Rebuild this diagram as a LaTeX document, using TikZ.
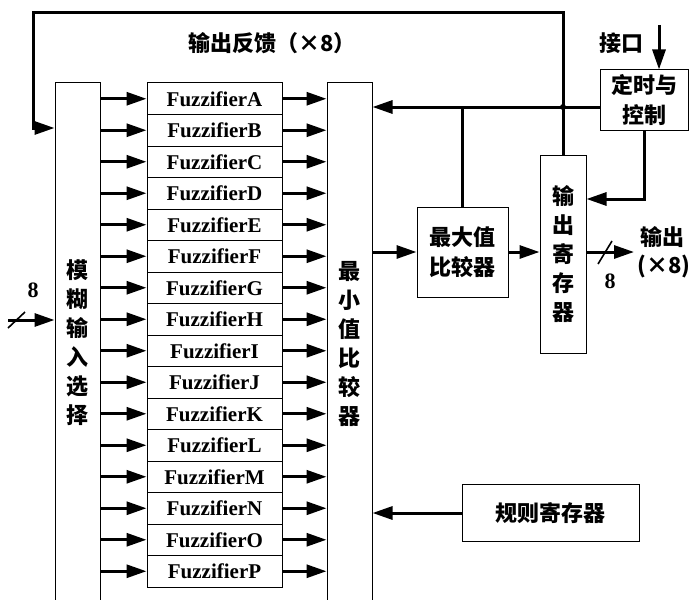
\documentclass[tikz,border=0pt]{standalone}
\usepackage{fontspec}
\setmainfont{Liberation Serif}
\newfontfamily\cjk{Noto Sans CJK SC}
\usetikzlibrary{positioning, calc, arrows.meta}

\begin{document}
\begin{tikzpicture}[
    x=0.5pt, y=-0.5pt,
    box/.style={draw, line width=0.5pt, inner sep=0pt, align=center, font=\cjk\bfseries\fontsize{11}{14.5}\selectfont},
    fuzz/.style={draw, line width=0.5pt, minimum width=67.5pt, minimum height=15.75pt, inner sep=0pt, font=\bfseries\fontsize{10.5}{12}\selectfont},
    bus/.style={line width=1.5pt, -{Triangle[length=10pt,width=6.5pt]}},
    wire/.style={line width=1.5pt},
    lbl/.style={font=\cjk\bfseries\fontsize{11}{14}\selectfont, inner sep=0pt, align=center},
    num/.style={font=\bfseries\fontsize{11}{12}\selectfont, inner sep=0pt}
]
    \useasboundingbox (0,0) rectangle (689,599);
    \clip (0,0) rectangle (689,599);

    % --- Big blocks ---
    \node[box, minimum width=22.5pt, minimum height=260pt] (sel) at (77.5,343) {模\\糊\\输\\入\\选\\择};
    \node[box, minimum width=22.5pt, minimum height=261pt] (minc) at (349.5,344) {最\\小\\值\\比\\较\\器};

    % --- Fuzzifier rows ---
    \foreach \l [count=\i from 0] in {A,...,P} {
        \node[fuzz] (f\l) at (214.5,{98.75+31.5*\i}) {Fuzzifier\l};
        \draw[bus] (sel.east |- f\l.west) -- (f\l.west);
        \draw[bus] (f\l.east) -- (f\l.east -| minc.west);
    }

    % --- Right side blocks ---
    \node[box, minimum width=45.5pt, minimum height=45pt, font=\cjk\bfseries\fontsize{11}{15}\selectfont] (maxc) at (462.5,252) {最大值\\比较器};
    \node[box, minimum width=23pt, minimum height=99pt] (outreg) at (563,254) {输\\出\\寄\\存\\器};
    \node[box, minimum width=44pt, minimum height=30pt, font=\cjk\bfseries\fontsize{11}{15}\selectfont] (ctrl) at (644,100) {定时与\\控制};
    \node[box, minimum width=88.5pt, minimum height=28.5pt] (rule) at (550.5,513) {规则寄存器};

    % --- Data path ---
    \draw[bus] (minc.east |- maxc.west) -- (maxc.west);
    \draw[bus] (maxc.east) -- (maxc.east -| outreg.west);
    \coordinate (out) at (634,252);
    \draw[bus] (outreg.east |- out) -- (out);
    \draw[line width=0.8pt] (598,264) -- (612,241);
    \node[num] (outn) at (610,281) {8};
    \node[lbl] (outlbl) at (662,237) {输出};
    \node[lbl] (outx) at (664,266) {(×8)};

    % --- Control bus and feedback ---
    \coordinate (bj) at (563,107);
    \draw[bus] (ctrl.west |- bj) -- (minc.east |- bj);
    \draw[wire] (maxc.north) -- (maxc.north |- bj);
    \fill (bj) circle (1.5pt);
    \coordinate (fb) at (33,13);
    \draw[bus] (outreg.north) |- (fb) |- (sel.west |- 0,128);
    \node[lbl] (fblbl) at (272,43) {输出反馈（×8）};
    \draw[bus] (ctrl.south) |- (outreg.east |- 0,199);

    % --- Interface ---
    \coordinate (ifc) at (659,25);
    \draw[bus] (ifc) -- (ifc |- ctrl.north);
    \node[lbl] (ifclbl) at (621,43) {接口};

    % --- Rules ---
    \draw[bus] (rule.west) -- (rule.west -| minc.east);

    % --- Input ---
    \coordinate (in) at (8,320);
    \draw[bus] (in) -- (in -| sel.west);
    \draw[line width=0.8pt] (8,328) -- (25,312);
    \node[num] (inn) at (33,290) {8};

\end{tikzpicture}
\end{document}
